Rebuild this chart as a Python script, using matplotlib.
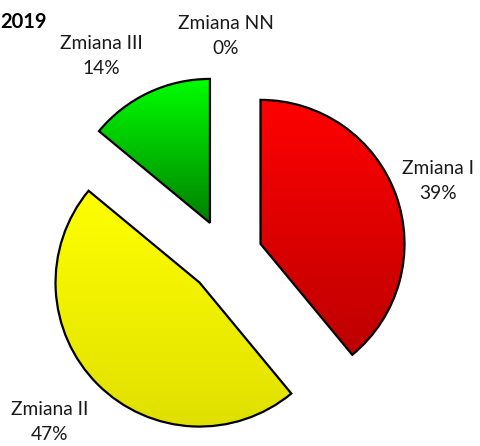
import numpy as np
import matplotlib
matplotlib.use("Agg")
import matplotlib.pyplot as plt
from matplotlib.colors import LinearSegmentedColormap

# data
labels = ["Zmiana I", "Zmiana II", "Zmiana III", "Zmiana NN"]
shares = [39, 47, 14, 0]
title = "2019"

top_colors = ["#ff0000", "#ffff00", "#00ff00", "#4060ff"]
bottom_colors = ["#bd0000", "#e0e000", "#008000", "#2030a0"]

# layout (pixel coords of the 480x446 canvas)
W, H = 480, 446
center = (225.7, H - 256.4)
radius = 144
explode = [37, 37, 37, 37]   # pie offsets are in data units here
label_pos = [(438, 181), (50, 422), (101, 56), (226, 36)]

plt.rcParams['font.family'] = ['Lato', 'DejaVu Sans']

fig = plt.figure(figsize=(W / 100, H / 100), dpi=100)
ax = fig.add_axes([0, 0, 1, 1])

wedges, _ = ax.pie(shares, startangle=90, counterclock=False, explode=explode,
                   center=center, radius=radius,
                   wedgeprops=dict(edgecolor='black', linewidth=1.6, facecolor='none'))

grad = np.linspace(0, 1, 256).reshape(-1, 1)
for w, c0, c1 in zip(wedges, top_colors, bottom_colors):
    if abs(w.theta2 - w.theta1) < 1e-6:
        w.set_visible(False)   # the 0% slice has no area
        continue
    bb = w.get_path().get_extents()
    cmap = LinearSegmentedColormap.from_list("g", [c0, c1])
    im = ax.imshow(grad, cmap=cmap, aspect='auto', origin='upper',
                   extent=[bb.x0, bb.x1, bb.y0, bb.y1],
                   zorder=w.get_zorder() - 0.1)
    im.set_clip_path(w)

for lab, val, (px, py) in zip(labels, shares, label_pos):
    ax.text(px, H - py, f"{lab}\n{val}%", ha='center', va='center',
            fontsize=13.8, linespacing=1.6, color='#1a1a1a')

ax.text(47, H - 22, title, ha='right', va='center', fontsize=14.5,
        fontweight='bold', color='black')

ax.set_xlim(0, W)
ax.set_ylim(0, H)
ax.set_axis_off()

fig.savefig("out.png", dpi=100)
